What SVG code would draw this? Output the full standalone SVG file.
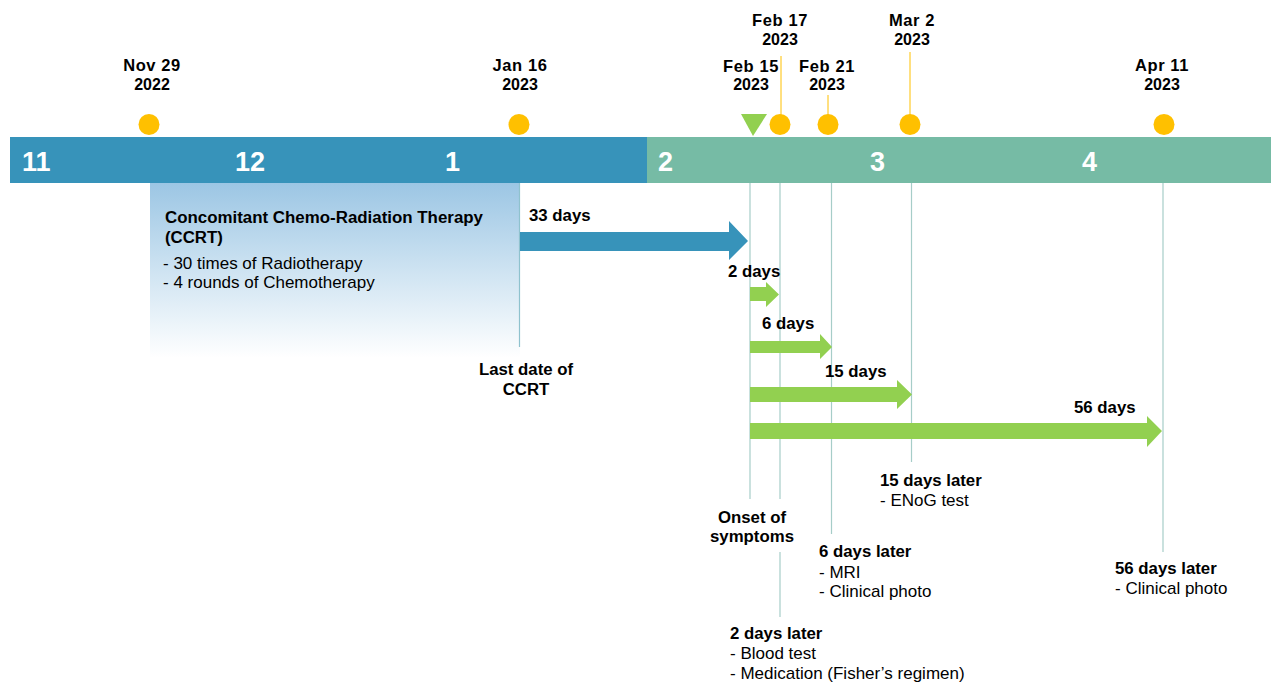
<svg xmlns="http://www.w3.org/2000/svg" width="1271" height="683" viewBox="0 0 1271 683">
<defs>
<linearGradient id="ccrtGrad" x1="0" y1="0" x2="0" y2="1">
<stop offset="0" stop-color="#9CC6E4"/>
<stop offset="0.55" stop-color="#D3E6F3"/>
<stop offset="1" stop-color="#FFFFFF"/>
</linearGradient>
<style>
text{font-family:"Liberation Sans",Arial,sans-serif;fill:#000}
.b{font-weight:bold;font-size:16.8px}
.d{font-weight:bold;font-size:16.5px;letter-spacing:0.6px}
.y{font-weight:bold;font-size:16px}
.r{font-size:17px}
.c{text-anchor:middle}
.m{font-weight:bold;font-size:27px;fill:#fff}
.dot{fill:#FFC000}
.yl{stroke:#FFC000;stroke-width:1}
.vl{stroke:#A6CDC8;stroke-width:1.2}
.ga{fill:#92D050}
.ba{fill:#3793BA}
</style>
</defs>
<rect width="1271" height="683" fill="#fff"/>

<g id="timeline-bar">
<rect x="10" y="137" width="637" height="46" fill="#3793BA"/>
<rect x="647" y="137" width="624" height="46" fill="#76BBA5"/>
<text class="m" x="22" y="171">11</text>
<text class="m" x="235" y="171">12</text>
<text class="m" x="445" y="171">1</text>
<text class="m" x="658" y="171">2</text>
<text class="m" x="870" y="171">3</text>
<text class="m" x="1082" y="171">4</text>
</g>

<g id="ccrt-box">
<rect x="150" y="183" width="370" height="175" fill="url(#ccrtGrad)"/>
<text class="b" x="165" y="223" textLength="318" lengthAdjust="spacingAndGlyphs">Concomitant Chemo-Radiation Therapy</text>
<text class="b" x="165" y="243">(CCRT)</text>
<text class="r" x="163" y="269">- 30 times of Radiotherapy</text>
<text class="r" x="163" y="288">- 4 rounds of Chemotherapy</text>
</g>

<g id="connectors">
<line x1="519.5" y1="183" x2="519.5" y2="347" stroke="#8FC2CE" stroke-width="1.2"/>
<line class="vl" x1="750" y1="183" x2="750" y2="499"/>
<line class="vl" x1="780" y1="183" x2="780" y2="499"/>
<line class="vl" x1="780" y1="552" x2="780" y2="617"/>
<line class="vl" x1="831.5" y1="183" x2="831.5" y2="534"/>
<line class="vl" x1="911.5" y1="183" x2="911.5" y2="462"/>
<line class="vl" x1="1163" y1="183" x2="1163" y2="552"/>
<line class="yl" x1="781" y1="56" x2="781" y2="115"/>
<line class="yl" x1="828" y1="95" x2="828" y2="115"/>
<line class="yl" x1="910" y1="52" x2="910" y2="115"/>
<polygon class="ba" points="520,232 729,232 729,221 748,241 729,260 729,251 520,251"/>
<polygon class="ga" points="750,287 766,287 766,282 779,294.5 766,307 766,301 750,301"/>
<polygon class="ga" points="750,341 820,341 820,334 832,347 820,359 820,353 750,353"/>
<polygon class="ga" points="750,387 897,387 897,380 912,394.5 897,409 897,402 750,402"/>
<polygon class="ga" points="750,423 1147,423 1147,416 1162,431 1147,447 1147,439 750,439"/>
<text class="b" x="529" y="221">33 days</text>
<text class="b" x="728" y="277">2 days</text>
<text class="b" x="762" y="329">6 days</text>
<text class="b" x="825" y="377">15 days</text>
<text class="b" x="1074" y="413">56 days</text>
</g>

<g id="nov29">
<circle class="dot" cx="149" cy="124.5" r="10.5"/>
<text class="d c" x="152" y="71">Nov 29</text>
<text class="y c" x="152" y="90">2022</text>
</g>

<g id="jan16">
<circle class="dot" cx="519" cy="124.5" r="10.5"/>
<text class="d c" x="520" y="71">Jan 16</text>
<text class="y c" x="520" y="90">2023</text>
<text class="b c" x="526" y="375">Last date of</text>
<text class="b c" x="526" y="395">CCRT</text>
</g>

<g id="feb15">
<polygon points="741,114 767,114 753,136" fill="#92D050"/>
<text class="d c" x="751" y="72">Feb 15</text>
<text class="y c" x="751" y="90">2023</text>
<text class="b c" x="752" y="523">Onset of</text>
<text class="b c" x="752" y="542">symptoms</text>
</g>

<g id="feb17">
<circle class="dot" cx="780" cy="124.5" r="10.5"/>
<text class="d c" x="780" y="26">Feb 17</text>
<text class="y c" x="780" y="45">2023</text>
<text class="b" x="730" y="639">2 days later</text>
<text class="r" x="730" y="659">- Blood test</text>
<text class="r" x="730" y="679">- Medication (Fisher’s regimen)</text>
</g>

<g id="feb21">
<circle class="dot" cx="828" cy="124.5" r="10.5"/>
<text class="d c" x="827" y="72">Feb 21</text>
<text class="y c" x="827" y="90">2023</text>
<text class="b" x="819" y="557">6 days later</text>
<text class="r" x="819" y="578">- MRI</text>
<text class="r" x="819" y="597">- Clinical photo</text>
</g>

<g id="mar2">
<circle class="dot" cx="910" cy="124.5" r="10.5"/>
<text class="d c" x="912" y="26">Mar 2</text>
<text class="y c" x="912" y="45">2023</text>
<text class="b" x="880" y="486">15 days later</text>
<text class="r" x="880" y="506">- ENoG test</text>
</g>

<g id="apr11">
<circle class="dot" cx="1164" cy="124.5" r="10.5"/>
<text class="d c" x="1162" y="71">Apr 11</text>
<text class="y c" x="1162" y="90">2023</text>
<text class="b" x="1115" y="574">56 days later</text>
<text class="r" x="1115" y="594">- Clinical photo</text>
</g>
</svg>
